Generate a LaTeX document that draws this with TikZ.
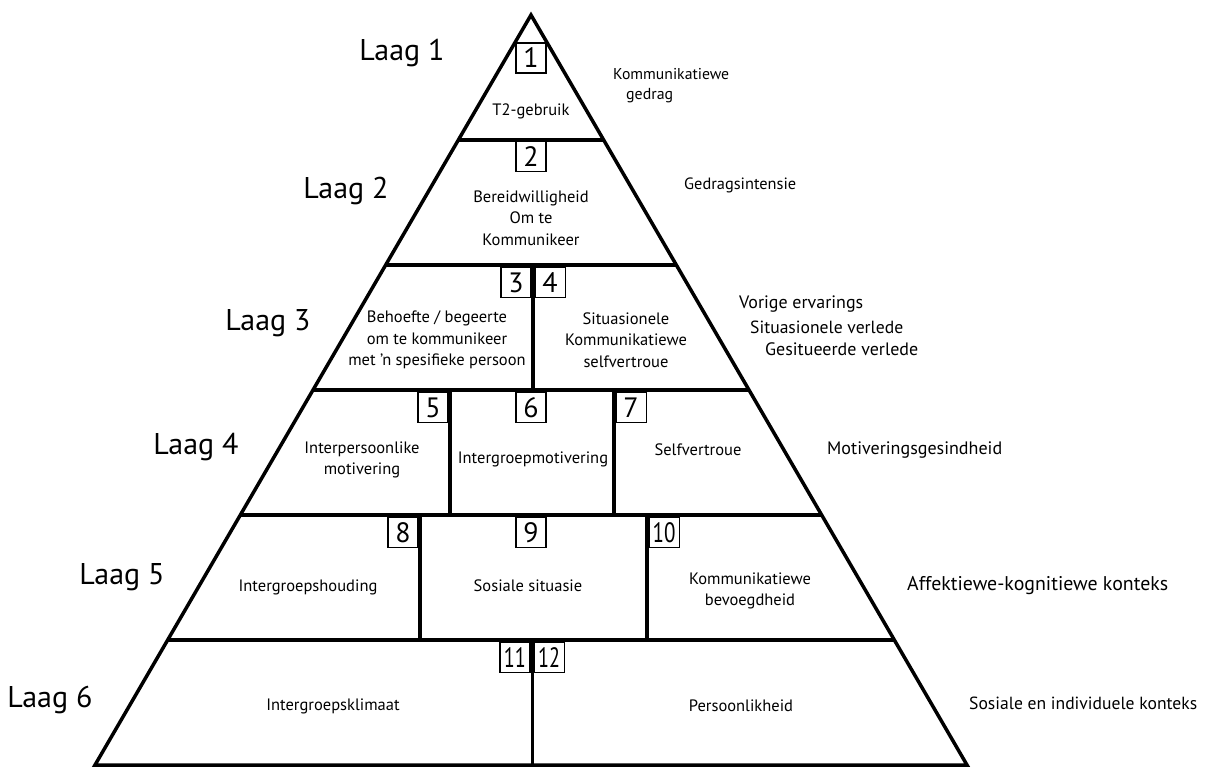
\documentclass[tikz,border=0pt]{standalone}
\usepackage{fontspec}
\setmainfont{PT Sans}
\usetikzlibrary{calc}
\newcommand\fsz[1]{\fontsize{#1}{1.3\dimexpr#1pt\relax}\selectfont}
\newcommand\fitw[2]{\resizebox{#1pt}{!}{#2}}
\tikzset{
  pyr/.style={line width=3.5pt, line join=miter},
  divline/.style={line width=3.5pt},
  thindiv/.style={line width=3pt},
  numbox/.style={draw, line width=1.1pt, fill=white, minimum width=30pt, minimum height=30pt, inner sep=0pt, font=\fsz{28}},
  laag/.style={font=\fsz{30}, inner sep=0pt},
  cell/.style={font=\fontsize{16.5}{21.5}\selectfont, align=center, inner sep=0pt},
  side/.style={font=\fsz{15}, anchor=west, inner sep=0pt},
}
\begin{document}
\begin{tikzpicture}[x=1pt,y=-1pt]
\useasboundingbox (0,0) rectangle (1207,767);
% pyramid corners
\coordinate (A) at (531,15);
\coordinate (BL) at (95,765);
\coordinate (BR) at (967,765);
\foreach \k in {1,...,5}{
  \coordinate (L\k) at ($(A)!\k/6!(BL)$);
  \coordinate (R\k) at ($(A)!\k/6!(BR)$);
}
\draw[pyr] (A) -- (BL) -- (BR) -- cycle;
\foreach \k in {1,...,5}{ \draw[divline] (L\k) -- (R\k); }
% vertical dividers
\coordinate (d3t) at (533,265); \coordinate (d3b) at (533,390);
\coordinate (d4at) at (450,390); \coordinate (d4ab) at (450,515);
\coordinate (d4bt) at (614,390); \coordinate (d4bb) at (614,515);
\coordinate (d5at) at (420,515); \coordinate (d5ab) at (420,640);
\coordinate (d5bt) at (647,515); \coordinate (d5bb) at (647,640);
\coordinate (d6t) at (532,640); \coordinate (d6b) at (532,765);
\draw[divline] (d3t) -- (d3b);
\draw[divline] (d4at) -- (d4ab);
\draw[divline] (d4bt) -- (d4bb);
\draw[divline] (d5at) -- (d5ab);
\draw[divline] (d5bt) -- (d5bb);
\draw[thindiv] (d6t) -- (d6b);
% number boxes
\node[numbox] (n1) at (531,58) {1};
\node[numbox, anchor=north] (n2) at (531,141) {2};
\node[numbox, anchor=north east] (n3) at (531.5,267) {3};
\node[numbox, anchor=north west] (n4) at (534.5,267) {4};
\node[numbox, anchor=north east] (n5) at (448.5,392) {5};
\node[numbox, anchor=north] (n6) at (531,392) {6};
\node[numbox, anchor=north west] (n7) at (615.5,392) {7};
\node[numbox, anchor=north east] (n8) at (418.5,517) {8};
\node[numbox, anchor=north] (n9) at (531,517) {9};
\node[numbox, anchor=north west] (n10) at (648.5,517) {\scalebox{0.75}[1]{10}};
\node[numbox, anchor=north east] (n11) at (530.5,642) {\scalebox{0.72}[1]{11}};
\node[numbox, anchor=north west] (n12) at (533.5,642) {\scalebox{0.72}[1]{12}};
% layer labels
\node[laag] (l1) at (402,53) {Laag 1};
\node[laag] (l2) at (346,191) {Laag 2};
\node[laag] (l3) at (268,323) {Laag 3};
\node[laag] (l4) at (196,447) {Laag 4};
\node[laag] (l5) at (122,577) {Laag 5};
\node[laag] (l6) at (50,700) {Laag 6};
% cell texts
\node[cell] (c1) at (531,111) {T2-gebruik};
\node[cell] (c2) at (531,218) {Bereidwilligheid\\Om te\\Kommunikeer};
\node[cell] (c3) at (437,340) {Behoefte / begeerte\\om te kommunikeer\\met ’n spesifieke persoon};
\node[cell] (c4) at (626,340) {Situasionele\\Kommunikatiewe\\selfvertroue};
\node[cell] (c5) at (362,460) {Interpersoonlike\\motivering};
\node[cell] (c6) at (533,459) {Intergroepmotivering};
\node[cell] (c7) at (698,450) {Selfvertroue};
\node[cell] (c8) at (308,587) {Intergroepshouding};
\node[cell] (c9) at (528,586) {Sosiale situasie};
\node[cell] (c10) at (750,591) {Kommunikatiewe\\bevoegdheid};
\node[cell] (c11) at (333,706) {Intergroepsklimaat};
\node[cell] (c12) at (741,706) {Persoonlikheid};
% side texts
\node[side] (s1a) at (613,74) {\fitw{116}{Kommunikatiewe}};
\node[side] (s1b) at (626,96) {\fitw{47}{gedrag}};
\node[side] (s2) at (684,185) {\fitw{112}{Gedragsintensie}};
\node[side] (s3a) at (739,304) {\fitw{124}{Vorige ervarings}};
\node[side] (s3b) at (750,327) {\fitw{153}{Situasionele verlede}};
\node[side] (s3c) at (765,349) {\fitw{153}{Gesitueerde verlede}};
\node[side] (s4) at (827,450) {\fitw{175}{Motiveringsgesindheid}};
\node[side] (s5) at (907,586) {\fitw{261}{Affektiewe-kognitiewe konteks}};
\node[side] (s6) at (969,703) {\fitw{228}{Sosiale en individuele konteks}};
\end{tikzpicture}
\end{document}
